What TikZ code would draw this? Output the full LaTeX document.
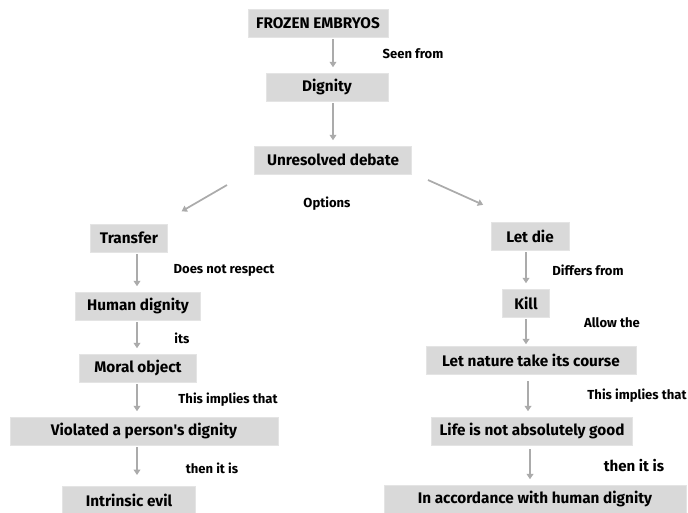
\documentclass[tikz,border=0pt]{standalone}
\usepackage{fontspec}
\setmainfont{Fira Sans}
\usetikzlibrary{arrows.meta}
\definecolor{boxgray}{HTML}{D9D9D9}
\definecolor{arrgray}{HTML}{ABABAB}
\tikzset{
  box/.style={fill=boxgray, draw=boxgray!70!white, line width=0.6pt, minimum height=21pt, inner sep=2pt, font=\bfseries\fontsize{11.5}{13}\selectfont},
  lbl/.style={font=\bfseries\fontsize{9.8}{11}\selectfont},
  arr/.style={draw=arrgray, line width=1.3pt, shorten <=1.5pt, shorten >=4pt, -{Triangle[width=5pt,length=4pt]}}
}
\begin{document}
\begin{tikzpicture}[x=0.75pt,y=-0.75pt]
\useasboundingbox (0,0) rectangle (688,512);
% Tronco central
\node[box, minimum width=105pt] (frozen) at (318,23) {FROZEN EMBRYOS};
\node[box, minimum width=91.5pt] (dignity) at (327,87) {Dignity};
\node[box, minimum width=118pt] (debate) at (333,160) {Unresolved debate};
\node[lbl] (seen) at (413,54) {Seen from};
\node[lbl] (options) at (327,204) {Options};
\draw[arr] (frozen.south -| 333,0) -- (dignity.north -| 333,0);
\draw[arr] (dignity.south -| 333,0) -- (debate.north -| 333,0);

% Rama izquierda
\node[box, minimum width=58pt] (transfer) at (129,238) {Transfer};
\node[box, minimum width=94pt] (humdig) at (138,306) {Human dignity};
\node[box, minimum width=88pt] (moral) at (138,368) {Moral object};
\node[box, minimum width=201pt] (violated) at (144,431) {Violated a person\textquotesingle s dignity};
\node[box, minimum width=100pt] (evil) at (129,500) {Intrinsic evil};
\node[lbl] (respect) at (224,270) {Does not respect};
\node[lbl] (its) at (182,338) {its};
\node[lbl] (implies1) at (228,400) {This implies that};
\node[lbl] (thenl) at (212,468) {then it is};
\coordinate (dl) at (227,185);
\coordinate (dr) at (428,180);
\draw[arr, shorten <=0pt] (dl) -- (177,214);
\draw[arr] (transfer.south -| 137,0) -- (humdig.north -| 137,0);
\draw[arr] (humdig.south -| 137,0) -- (moral.north -| 137,0);
\draw[arr] (moral.south -| 137,0) -- (violated.north -| 137,0);
\draw[arr, shorten >=8pt] (violated.south -| 137,0) -- (evil.north -| 137,0);

% Rama derecha
\node[box, minimum width=58.5pt] (letdie) at (530,236) {Let die};
\node[box, minimum width=35pt] (kill) at (526,303) {Kill};
\node[box, minimum width=157.5pt] (nature) at (531,360) {Let nature take its course};
\node[box, minimum width=151pt] (life) at (532,431) {Life is not absolutely good};
\node[box, minimum width=226.5pt] (accord) at (535,499) {In accordance with human dignity};
\node[lbl] (differs) at (588,270) {Differs from};
\node[lbl] (allow) at (612,323) {Allow the};
\node[lbl] (implies2) at (637,396) {This implies that};
\node[lbl, font=\bfseries\fontsize{11.3}{13}\selectfont] (thenr) at (634,466) {then it is};
\draw[arr, shorten <=0pt] (dr) -- (488,207);
\draw[arr] (letdie.south -| 526,0) -- (kill.north -| 526,0);
\draw[arr, shorten >=1pt] (kill.south -| 526,0) -- (nature.north -| 526,0);
\draw[arr, shorten <=5pt] (nature.south -| 528,0) -- (life.north -| 528,0);
\draw[arr, shorten <=3pt] (life.south -| 530,0) -- (accord.north -| 530,0);
\end{tikzpicture}
\end{document}
